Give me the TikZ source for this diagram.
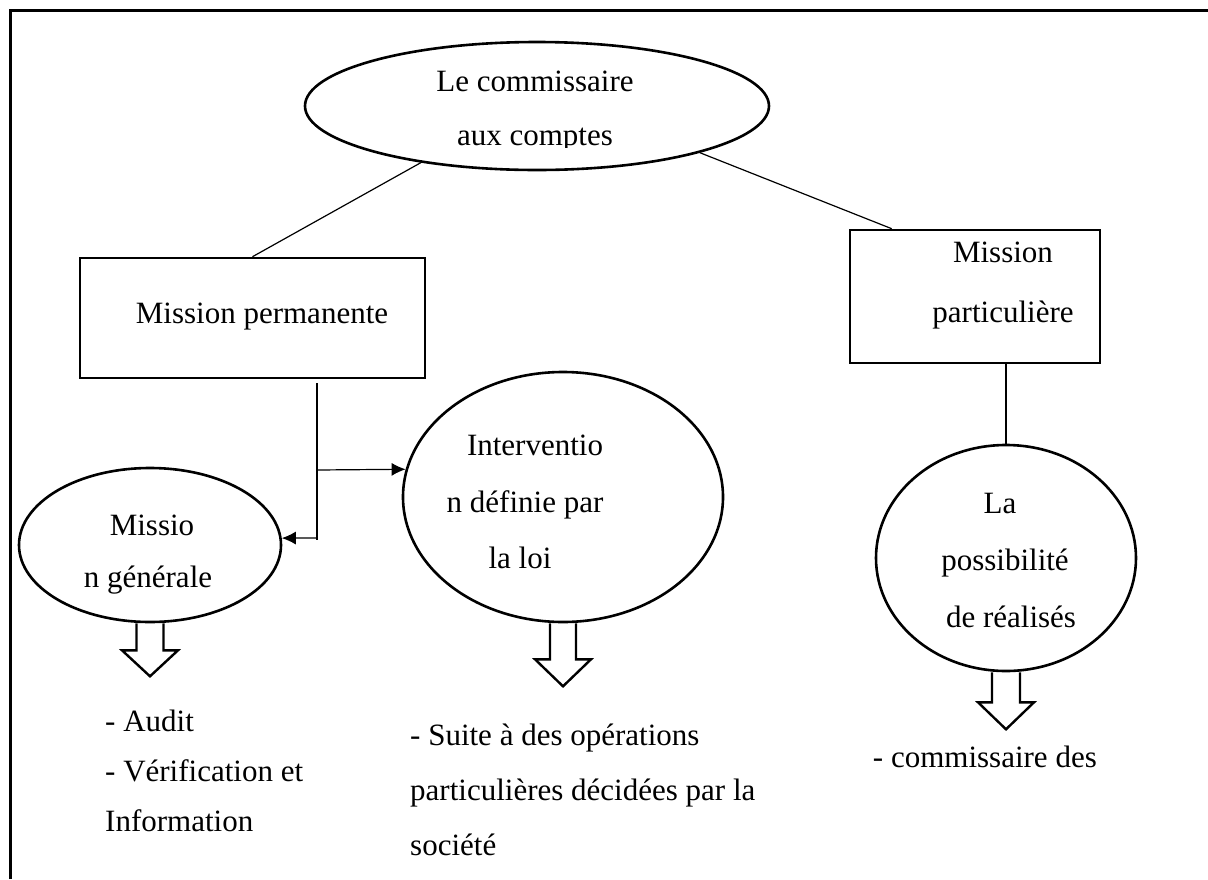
\documentclass[tikz,border=0pt]{standalone}
\usepackage{fontspec}
\setmainfont{Liberation Serif}
\usetikzlibrary{shapes.geometric,arrows.meta}
\begin{document}
\begin{tikzpicture}[x=1pt,y=-1pt,
  txt/.style={font=\fontsize{31}{36}\selectfont, inner sep=0pt, anchor=base},
  ell/.style={ellipse, draw=black, line width=2.6pt, inner sep=0pt},
  boxn/.style={rectangle, draw=black, line width=2.6pt, inner sep=0pt},
  conn/.style={draw=black, line width=1.2pt},
  arr/.style={conn, -{Latex[length=14pt,width=13pt]}},
  blk/.style={draw=black, line width=2.4pt, line join=miter}]
\fill[white] (0,0) rectangle (1208,879);
\useasboundingbox (0,0) rectangle (1208,879);
% frame
\draw[line width=3pt] (10,879) -- (10,10) -- (1208,10);

% shapes
\node[ell, minimum width=464pt, minimum height=128pt] (top) at (537,106) {};
\node[boxn, minimum width=345pt, minimum height=120pt] (mp) at (252.5,318) {};
\node[boxn, minimum width=250pt, minimum height=133pt] (mp2) at (975,296.5) {};
\node[ell, minimum width=262pt, minimum height=154pt] (mg) at (150,545) {};
\node[ell, minimum width=320pt, minimum height=250pt] (int) at (563,497) {};
\node[ell, minimum width=260pt, minimum height=226pt] (lp) at (1006,558) {};

% texts
\node[txt] (t1) at (535,91) {Le commissaire};
\begin{scope}
\clip (300,40) rectangle (780,147);
\node[txt] (t2) at (535,145) {aux comptes};
\end{scope}
\node[txt] (t3) at (262,323) {Mission permanente};
\node[txt] (t4) at (1003,262) {Mission};
\node[txt] (t5) at (1003,322) {particulière};
\node[txt] (t6) at (535,455) {Interventio};
\node[txt] (t7) at (525,512) {n définie par};
\node[txt] (t8) at (520,568) {la loi};
\node[txt] (t9) at (152,535) {Missio};
\node[txt] (t10) at (148,587) {n générale};
\node[txt] (t11) at (1000,513) {La};
\node[txt] (t12) at (1005,570) {possibilité};
\node[txt] (t13) at (1011,627) {de réalisés};
\node[txt, anchor=base west] (t14) at (105,731) {- Audit};
\node[txt, anchor=base west] (t15) at (105,781) {- Vérification et};
\node[txt, anchor=base west] (t16) at (105,831) {Information};
\node[txt, anchor=base west] (t17) at (410,745) {- Suite à des opérations};
\node[txt, anchor=base west] (t18) at (410,800) {particulières décidées par la};
\node[txt, anchor=base west] (t19) at (410,855) {société};
\node[txt, anchor=base east] (t20) at (1097,767) {- commissaire des};

% connectors
\draw[conn] (top.206) -- (mp.north);
\draw[conn] (top.344) -- ([xshift=43pt]mp2.north west);
\coordinate (v1) at (317,383);
\coordinate (v2) at (317,540);
\coordinate (v3) at (317,470);
\coordinate (v4) at (317,538);
\draw[conn] (v1) -- (v2);
\draw[arr] (v3) -- (int.170);
\draw[arr] (v4) -- (mg.3);
\draw[conn] (lp.north) -- (lp.north |- mp2.south);

% block arrows
\draw[blk, shift={(mg.south)}] (-13.5,0) -- (-13.5,27) -- (-28,27) -- (0,53) -- (28,27) -- (13.5,27) -- (13.5,0);
\draw[blk, shift={(int.south)}] (-13,0) -- (-13,36) -- (-28,36) -- (0,63) -- (28,36) -- (13,36) -- (13,0);
\draw[blk, shift={(lp.south)}] (-14,0) -- (-14,30) -- (-28,30) -- (0,57) -- (28,30) -- (14,30) -- (14,0);
\end{tikzpicture}
\end{document}
